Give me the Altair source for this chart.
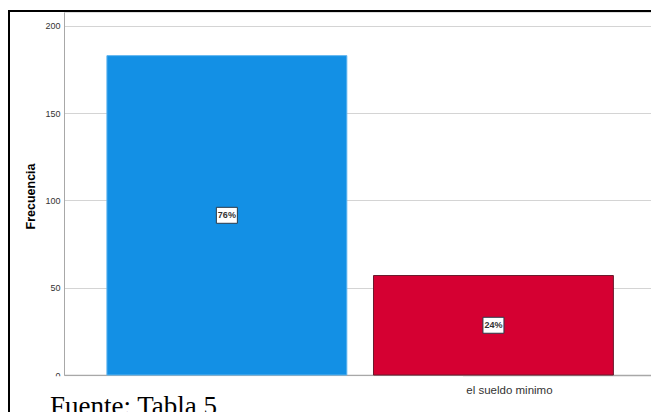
import altair as alt
import pandas as pd

categories = ["Menos que el sueldo minimo", "el sueldo minimo"]
frequencies = [183, 57]
pct_labels = ["76%", "24%"]
fill_colors = ["#1390e5", "#d50032"]
edge_colors = ["#5db4ef", "#6a1a2c"]
y_ticks = [0, 50, 100, 150, 200]

df = pd.DataFrame({"cat": categories, "freq": frequencies, "pct": pct_labels})

W, H = 587, 363

xenc = alt.X(
    "cat:N",
    sort=categories,
    scale=alt.Scale(paddingInner=0.1, paddingOuter=0.151, align=0.533),
    axis=alt.Axis(
        title=None,
        labelExpr="datum.value == 'el sueldo minimo' ? 'el sueldo minimo' : ''",
        labelOffset=16,
        labelPadding=9,
        labelFont="Liberation Sans",
        labelFontSize=11.5,
        labelColor="#333333",
        ticks=False,
        domainColor="#a8a8a8",
        domainWidth=1.5,
        grid=False,
        labelAngle=0,
    ),
)

yenc = alt.Y(
    "freq:Q",
    scale=alt.Scale(domain=[0, 208], nice=False),
    axis=alt.Axis(
        title="Frecuencia",
        values=y_ticks,
        titleFont="Liberation Sans",
        titleFontSize=12.5,
        titleFontWeight="bold",
        titleColor="#000000",
        titleX=-34,
        titleY=184,
        titleAngle=270,
        titleAlign="center",
        titleBaseline="middle",
        labelFont="Liberation Sans",
        labelFontSize=9,
        labelColor="#333333",
        labelPadding=4,
        ticks=False,
        domainColor="#a8a8a8",
        gridColor="#d4d4d4",
        gridWidth=1,
    ),
)

bars = alt.Chart(df).mark_bar(strokeWidth=1).encode(
    x=xenc,
    y=yenc,
    color=alt.Color("cat:N", scale=alt.Scale(domain=categories, range=fill_colors), legend=None),
    stroke=alt.Stroke("cat:N", scale=alt.Scale(domain=categories, range=edge_colors), legend=None),
)

mid = alt.Chart(df).transform_calculate(half="datum.freq / 2")

boxes = mid.mark_point(
    shape="M-1,-0.76L1,-0.76L1,0.76L-1,0.76Z",
    size=441,
    filled=True,
    fill="white",
    stroke="#2a3a4a",
    strokeWidth=1,
    opacity=1,
).encode(
    x=alt.X("cat:N", sort=categories),
    y=alt.Y("half:Q"),
)

texts = mid.mark_text(
    font="Liberation Sans", fontSize=9, fontWeight="bold", color="#333333",
    baseline="middle", align="center"
).encode(
    x=alt.X("cat:N", sort=categories),
    y=alt.Y("half:Q"),
    text="pct:N",
)

cover = alt.Chart(df).mark_rect(color="white").encode(
    x=alt.value(-53), x2=alt.value(399), y=alt.value(364.5), y2=alt.value(402)
)

left_border = alt.Chart(df).mark_rule(color="black", strokeWidth=2).encode(
    x=alt.value(-55), y=alt.value(-1), y2=alt.value(402)
)
top_border = alt.Chart(df).mark_rule(color="black", strokeWidth=2).encode(
    y=alt.value(-1), x=alt.value(-56), x2=alt.value(W)
)

source = alt.Chart(pd.DataFrame({"t": ["Fuente: Tabla 5"]})).mark_text(
    font="Liberation Serif", fontSize=27, color="black", align="left", baseline="alphabetic"
).encode(x=alt.value(-14), y=alt.value(403), text="t:N")

chart = alt.layer(bars, boxes, texts, cover, left_border, top_border, source).properties(
    width=W,
    height=H,
    autosize=alt.AutoSizeParams(type="none"),
    padding={"left": 64, "top": 12, "right": 0, "bottom": 37},
).configure_view(stroke=None).configure(background="white")

chart.save("out.html", embed_options={"renderer": "svg", "actions": False})
